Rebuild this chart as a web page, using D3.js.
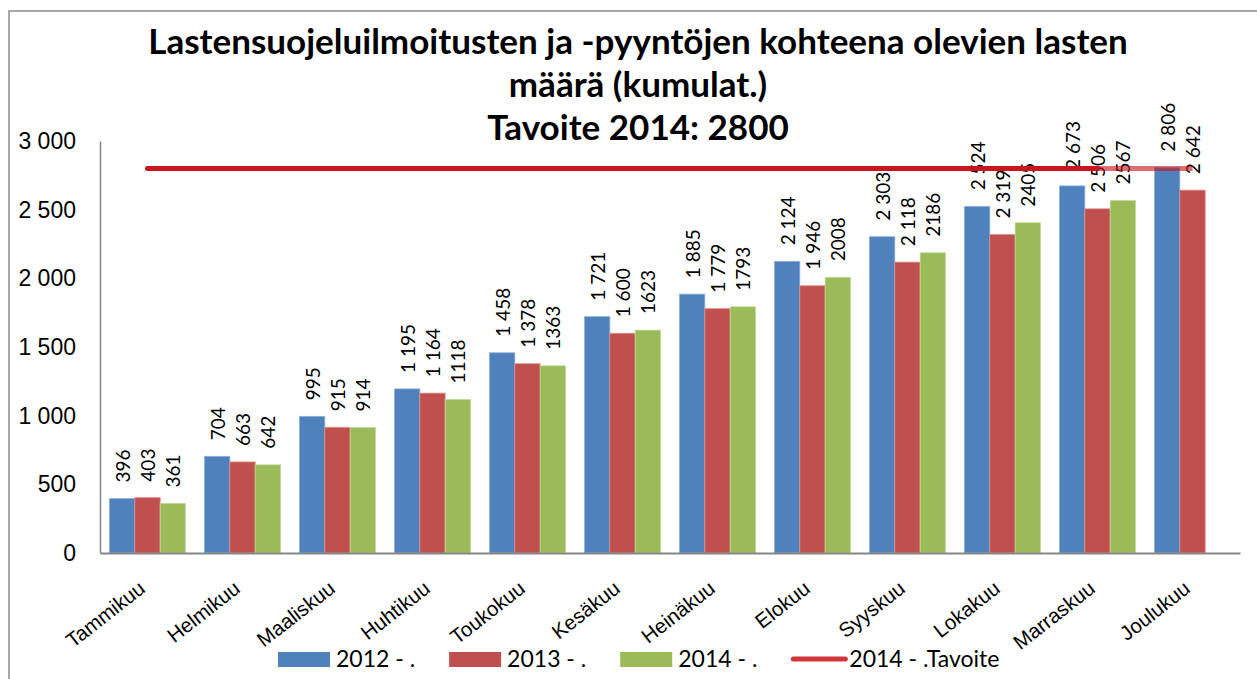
<!DOCTYPE html>
<html>
<head>
<meta charset="utf-8">
<script src="https://cdn.jsdelivr.net/npm/d3@7"></script>
<style>
  body { margin: 0; background: #fff; }
  svg { display: block; font-family: Lato, "Open Sans", sans-serif; }
</style>
</head>
<body>
<div id="chart"></div>
<script>
const width = 1257,
height = 679,
margin = { top: 141, bottom: 126, left: 100, right: 17 }

// data
const months = ["Tammikuu","Helmikuu","Maaliskuu","Huhtikuu","Toukokuu","Kesäkuu","Heinäkuu","Elokuu","Syyskuu","Lokakuu","Marraskuu","Joulukuu"]
const series = ["2012 - .","2013 - .","2014 - ."]
const v2012 = [396,704,995,1195,1458,1721,1885,2124,2303,2524,2673,2806]
const v2013 = [403,663,915,1164,1378,1600,1779,1946,2118,2319,2506,2642]
const v2014 = [361,642,914,1118,1363,1623,1793,2008,2186,2405,2567,null]
const target = [2800,2800,2800,2800,2800,2800,2800,2800,2800,2800,2800,2800]
const targetName = "2014 - .Tavoite"
const yTicks = [0,500,1000,1500,2000,2500,3000]
const titleLines = ["Lastensuojeluilmoitusten ja -pyyntöjen kohteena olevien lasten","määrä (kumulat.)","Tavoite 2014: 2800"]

const colors = ["#4f81bd","#c0504d","#9bbb59"]
const edges = ["#8fb0da","#dc8c8a","#c3d99a"]
const lineColor = "#c8161d"

// Finnish style numbers: "2 806"
const fi = d3.formatLocale({ decimal: ",", thousands: " ", grouping: [3], currency: ["", " €"] })
const fmtSpace = fi.format(",d")
const fmtPlain = d3.format("d")
const labelFormats = [fmtSpace, fmtSpace, fmtPlain]

const rows = months.map((m, i) => ({ month: m, vals: [v2012[i], v2013[i], v2014[i]], target: target[i] }))

const svg = d3.select("#chart")
    .append("svg")
    .attr("width", width)
    .attr("height", height)

// chart frame
svg.append("path")
    .attr("d", `M9,${height} V11 H${width}`)
    .attr("fill", "none")
    .attr("stroke", "#8c8c8c")
    .attr("stroke-width", 1.5)

//Title, shrunk so the first line spans like the original
const title = svg.append("g").attr("class", "title")
const titleBase = [54, 97, 140]
titleLines.forEach((t, i) => {
    title.append("text")
        .attr("x", 638)
        .attr("y", titleBase[i])
        .attr("text-anchor", "middle")
        .attr("font-weight", "bold")
        .attr("font-size", 30)
        .attr("fill", "#000")
        .text(t)
})
const firstLen = title.select("text").node().getComputedTextLength()
title.selectAll("text").attr("font-size", 30 * 980 / firstLen)

const x = d3.scaleBand()
    .domain(months)
    .range([margin.left, width - margin.right])
    .paddingInner(0.2)
    .paddingOuter(0.1)

const xs = d3.scaleBand()
    .domain(d3.range(series.length))
    .range([0, x.bandwidth()])

const y = d3.scaleLinear()
    .domain([0, 3000])
    .range([height - margin.bottom, margin.top])

// y axis
const yAxis = svg.append("g")
    .attr("transform", `translate(${margin.left},0)`)
    .call(d3.axisLeft(y).tickValues(yTicks).tickFormat(fmtSpace).tickSize(0).tickPadding(24))
yAxis.select(".domain").attr("stroke", "#868686").attr("stroke-width", 1.5)
yAxis.selectAll("text").attr("font-size", 23).attr("fill", "#000").attr("font-family", null)

//Bars
const groups = svg.append("g")
    .selectAll("g")
    .data(rows)
    .join("g")
    .attr("transform", d => `translate(${x(d.month)},0)`)

groups.selectAll("rect")
    .data(d => d.vals.map((v, s) => ({ v, s })).filter(e => e.v != null))
    .join("rect")
    .attr("x", e => xs(e.s))
    .attr("width", xs.bandwidth())
    .attr("y", e => y(e.v))
    .attr("height", e => y(0) - y(e.v))
    .attr("fill", e => colors[e.s])
    .attr("stroke", e => edges[e.s])
    .attr("stroke-width", 0.8)

// x axis
const xAxis = svg.append("g")
    .attr("transform", `translate(0,${y(0)})`)
    .call(d3.axisBottom(x).tickSize(0).tickSizeOuter(0))
xAxis.select(".domain").attr("stroke", "#868686").attr("stroke-width", 2)
xAxis.selectAll("text")
    .attr("font-size", 20.5)
    .attr("font-family", null)
    .attr("fill", "#000")
    .attr("text-anchor", "end")
    .attr("dy", null)
    .attr("y", 0)
    .attr("transform", "translate(-1,38) rotate(-38)")

//Target line, the last stretch is lighter and sits over the bar
const line = d3.line()
    .x(d => x(d.month) + x.bandwidth() / 2)
    .y(d => y(d.target))

svg.append("path")
    .datum(rows.slice(0, 11))
    .attr("d", line)
    .attr("fill", "none")
    .attr("stroke", lineColor)
    .attr("stroke-width", 5)
    .attr("stroke-linecap", "round")

svg.append("path")
    .datum(rows.slice(10))
    .attr("d", line)
    .attr("fill", "none")
    .attr("stroke", lineColor)
    .attr("stroke-opacity", 0.62)
    .attr("stroke-width", 5)
    .attr("stroke-linecap", "butt")

//Data labels, rotated
groups.selectAll("text.lbl")
    .data(d => d.vals.map((v, s) => ({ v, s })).filter(e => e.v != null))
    .join("text")
    .attr("class", "lbl")
    .attr("font-size", 19)
    .attr("fill", "#000")
    .attr("dominant-baseline", "central")
    .attr("transform", e => `translate(${xs(e.s) + xs.bandwidth() / 2},${y(e.v) - 16}) rotate(-90)`)
    .text(e => labelFormats[e.s](e.v))

//Legend
const legend = svg.append("g").attr("class", "legend")
let lx = 278
const legendItems = series.map((s, i) => ({ name: s, type: "bar", color: colors[i] }))
    .concat([{ name: targetName, type: "line", color: "#d0373a" }])

legendItems.forEach(d => {
    if (d.type === "bar") {
        legend.append("rect")
            .attr("x", lx).attr("y", 652)
            .attr("width", 52).attr("height", 15)
            .attr("fill", d.color)
    } else {
        legend.append("line")
            .attr("x1", lx + 2).attr("x2", lx + 54)
            .attr("y1", 659).attr("y2", 659)
            .attr("stroke", d.color)
            .attr("stroke-width", 5)
            .attr("stroke-linecap", "round")
    }
    const t = legend.append("text")
        .attr("x", lx + 58)
        .attr("y", 667)
        .attr("font-size", 23)
        .attr("fill", "#000")
        .text(d.name)
    lx += 58 + t.node().getComputedTextLength() + 34
})
</script>
</body>
</html>
